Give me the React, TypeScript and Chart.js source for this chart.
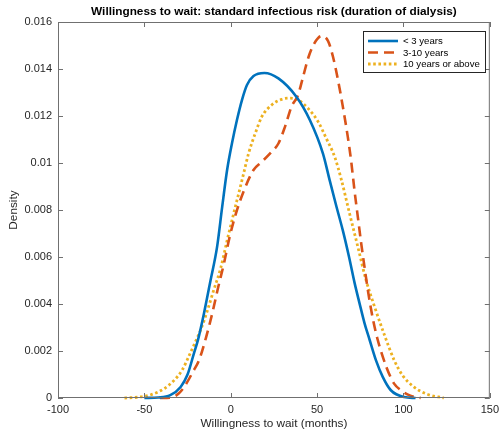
import React, { useEffect, useRef } from "react";
import { Chart, registerables } from "chart.js";

Chart.register(...registerables);

const titleText = "Willingness to wait: standard infectious risk (duration of dialysis)";
const xAxisLabel = "Willingness to wait (months)";
const yAxisLabel = "Density";
const seriesLabels = ["< 3 years", "3-10 years", "10 years or above"];
const seriesColors = ["#0072BD", "#D95319", "#EDB120"];

const xTickValues = [-100, -50, 0, 50, 100, 150];
const yTickValues = [0, 0.002, 0.004, 0.006, 0.008, 0.01, 0.012, 0.014, 0.016];

const lessThan3X = [-50, -42, -35, -29, -25, -21.3, -19, -15.5, -11.7, -7.9, -5, -2.1, 0.7, 3.6, 6.5, 9.4, 13.2, 19.5, 27.6, 38, 45.8, 53.4, 57.3, 61, 65, 68.5, 71.7, 74.5, 77.4, 80.3, 84.1, 88, 92.7, 100.4, 107];
const lessThan3Y = [0, 0.00002, 0.00012, 0.00047, 0.001, 0.0019, 0.00246, 0.0036, 0.005, 0.00643, 0.0081, 0.0097, 0.01083, 0.01183, 0.01268, 0.01332, 0.0137, 0.01383, 0.0136, 0.01282, 0.01183, 0.0104, 0.00926, 0.0082, 0.0071, 0.006, 0.0049, 0.00405, 0.0032, 0.0025, 0.0016, 0.0009, 0.00033, 0.00004, 0];

const threeTo10X = [-41, -34, -30, -26, -22, -18.4, -14.2, -10.7, -7.3, -4, -0.8, 3, 7.5, 13.2, 18, 23.7, 27.6, 31.4, 35.2, 39, 42, 45, 48.5, 52.5, 56.3, 59.2, 62.1, 64.9, 67.8, 69.7, 71.7, 73.6, 75.5, 77.4, 79.7, 82.2, 85, 90.2, 94.7, 98.5, 104, 110];
const threeTo10Y = [0, 0.00003, 0.0002, 0.00058, 0.0011, 0.0016, 0.0026, 0.0036, 0.0047, 0.0057, 0.0068, 0.00785, 0.0088, 0.0097, 0.01005, 0.01048, 0.01083, 0.01154, 0.0124, 0.0129, 0.0137, 0.0145, 0.0151, 0.0154, 0.0152, 0.01452, 0.01353, 0.0124, 0.0111, 0.0101, 0.0088, 0.0077, 0.0066, 0.0056, 0.00445, 0.0034, 0.0025, 0.0013, 0.0006, 0.00033, 0.0001, 0];

const tenPlusX = [-61.5, -53, -46.2, -38.5, -32.8, -28, -24.1, -21, -17.4, -13.6, -9.8, -5.9, -2.1, 1.7, 4.6, 7.5, 10.3, 14.2, 18, 23.7, 29.5, 34.3, 39.1, 44.8, 50.6, 55.3, 60.2, 64, 68.8, 73.6, 78.4, 83.2, 88.9, 94.7, 99.4, 106, 113.8, 123.4];
const tenPlusY = [0, 0.00004, 0.00014, 0.0004, 0.00075, 0.0012, 0.0018, 0.0023, 0.0029, 0.0037, 0.0046, 0.0055, 0.0067, 0.00785, 0.0087, 0.00956, 0.0104, 0.01126, 0.01197, 0.01247, 0.01271, 0.01276, 0.01268, 0.01232, 0.01176, 0.01105, 0.01026, 0.0093, 0.00785, 0.00643, 0.005, 0.0039, 0.0027, 0.0016, 0.00097, 0.00047, 0.00016, 0];

const FONT = "'Liberation Sans', Arial, Helvetica, sans-serif";

function zip(xs: number[], ys: number[]) {
  return xs.map((x, i) => ({ x, y: ys[i] }));
}

const dashes: number[][] = [[], [10, 6], [2.6, 2.6]];

const decorPlugin = {
  id: "matlabDecor",
  afterDraw(chart: any) {
    const { ctx, chartArea } = chart;
    const { left, right, top, bottom } = chartArea;
    const xs = chart.scales.x;
    const ys = chart.scales.y;
    ctx.save();
    // axes box
    ctx.strokeStyle = "#707070";
    ctx.lineWidth = 1;
    ctx.strokeRect(left + 0.5, top + 0.5, right - left - 1, bottom - top - 1);
    // inward ticks
    const tl = 5;
    ctx.beginPath();
    xTickValues.forEach((v) => {
      const p = Math.round(xs.getPixelForValue(v)) + 0.5;
      ctx.moveTo(p, bottom);
      ctx.lineTo(p, bottom - tl);
      ctx.moveTo(p, top);
      ctx.lineTo(p, top + tl);
    });
    yTickValues.forEach((v) => {
      const p = Math.round(ys.getPixelForValue(v)) + 0.5;
      ctx.moveTo(left, p);
      ctx.lineTo(left + tl, p);
      ctx.moveTo(right, p);
      ctx.lineTo(right - tl, p);
    });
    ctx.stroke();

    // title
    ctx.fillStyle = "#000000";
    ctx.font = `bold 11.8px ${FONT}`;
    ctx.textAlign = "center";
    ctx.textBaseline = "middle";
    ctx.fillText(titleText, (left + right) / 2, 11.5);

    // axis labels
    ctx.fillStyle = "#262626";
    ctx.font = `11.8px ${FONT}`;
    ctx.fillText(xAxisLabel, (left + right) / 2, 424);
    ctx.save();
    ctx.translate(14, (top + bottom) / 2);
    ctx.rotate(-Math.PI / 2);
    ctx.fillText(yAxisLabel, 0, 0);
    ctx.restore();

    // legend
    const lx = 363, ly = 31, lw = 122, lh = 41;
    ctx.fillStyle = "#ffffff";
    ctx.fillRect(lx, ly, lw, lh);
    ctx.strokeStyle = "#262626";
    ctx.lineWidth = 1;
    ctx.strokeRect(lx + 0.5, ly + 0.5, lw, lh);
    const rows = [41, 52.5, 64];
    chart.data.datasets.forEach((ds: any, i: number) => {
      ctx.beginPath();
      ctx.strokeStyle = ds.borderColor;
      ctx.lineWidth = ds.borderWidth;
      ctx.setLineDash(ds.borderDash || []);
      ctx.moveTo(368, rows[i]);
      ctx.lineTo(398, rows[i]);
      ctx.stroke();
      ctx.setLineDash([]);
      ctx.fillStyle = "#000000";
      ctx.font = `9.6px ${FONT}`;
      ctx.textAlign = "left";
      ctx.textBaseline = "middle";
      ctx.fillText(ds.label, 403, rows[i] + 0.5);
    });
    ctx.restore();
  },
};

export default function App() {
  const canvasRef = useRef<HTMLCanvasElement | null>(null);

  useEffect(() => {
    document.body.style.margin = "0";
    const canvas = canvasRef.current;
    if (!canvas) return;
    const seriesX = [lessThan3X, threeTo10X, tenPlusX];
    const seriesY = [lessThan3Y, threeTo10Y, tenPlusY];
    const chart = new Chart(canvas, {
      type: "scatter",
      data: {
        datasets: seriesLabels.map((label, i) => ({
          label,
          data: zip(seriesX[i], seriesY[i]),
          showLine: true,
          borderColor: seriesColors[i],
          backgroundColor: seriesColors[i],
          borderWidth: i === 2 ? 2.8 : 2.6,
          borderDash: dashes[i],
          borderCapStyle: "butt",
          pointRadius: 0,
          pointHoverRadius: 0,
          cubicInterpolationMode: "monotone",
          clip: 4,
        })),
      },
      options: {
        animation: false,
        responsive: false,
        devicePixelRatio: 1,
        layout: { padding: { top: 22, right: 11, left: 0, bottom: 0 } },
        plugins: {
          legend: { display: false },
          title: { display: false },
          tooltip: { enabled: false },
        },
        scales: {
          x: {
            type: "linear",
            min: -100,
            max: 150,
            afterBuildTicks: (scale: any) => {
              scale.ticks = xTickValues.map((v) => ({ value: v }));
            },
            afterFit: (scale: any) => {
              scale.height = 38;
            },
            grid: { display: false, drawTicks: false },
            border: { display: false },
            ticks: {
              padding: 5,
              color: "#262626",
              font: { family: FONT, size: 11 },
              maxRotation: 0,
              callback: (v: any) => String(v),
            },
          },
          y: {
            type: "linear",
            min: 0,
            max: 0.016,
            afterBuildTicks: (scale: any) => {
              scale.ticks = yTickValues.map((v) => ({ value: v }));
            },
            afterFit: (scale: any) => {
              scale.width = 58;
            },
            grid: { display: false, drawTicks: false },
            border: { display: false },
            ticks: {
              padding: 6,
              color: "#262626",
              font: { family: FONT, size: 11 },
              callback: (v: any) => (v === 0 ? "0" : String(parseFloat(Number(v).toFixed(3)))),
            },
          },
        },
      },
      plugins: [decorPlugin],
    } as any);
    return () => chart.destroy();
  }, []);

  return (
    <div style={{ position: "absolute", left: 0, top: 0, width: 504, height: 436, background: "#ffffff" }}>
      <canvas ref={canvasRef} width={504} height={436} style={{ width: 504, height: 436 }} />
    </div>
  );
}
